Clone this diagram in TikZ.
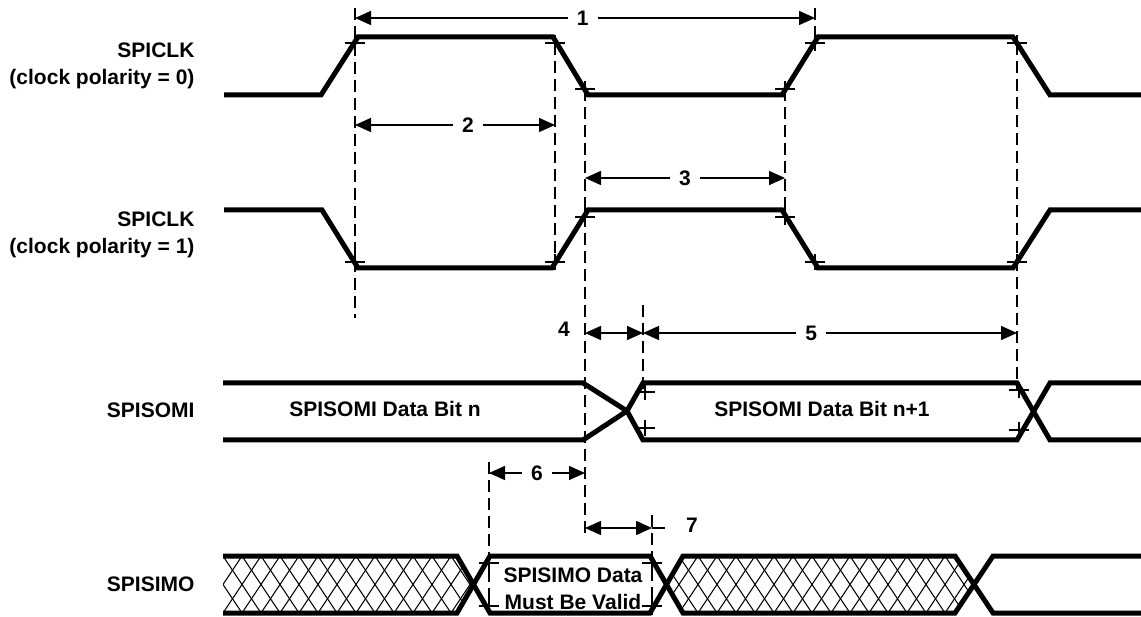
\documentclass[tikz,border=0pt]{standalone}
\usepackage{fontspec}
\setmainfont{Liberation Sans}
\usetikzlibrary{arrows.meta}

\tikzset{
  sig/.style={line width=5pt, line join=miter},
  guide/.style={line width=2pt, dash pattern=on 12pt off 6pt},
  dimline/.style={line width=1.5pt,
    {Triangle[length=16pt,width=14pt]}-{Triangle[length=16pt,width=14pt]}},
  crossmk/.style={line width=1.5pt},
  hatchln/.style={line width=1pt},
  lbl/.style={font=\fontsize{21}{27}\selectfont\bfseries},
  num/.style={lbl, fill=white, inner xsep=9pt, inner ysep=1pt},
}

\begin{document}
\begin{tikzpicture}[x=1pt, y=-1pt]
\useasboundingbox (0,0) rectangle (1141,617);

% Signal names
\node[lbl, anchor=east, align=right] (clk0) at (198,66) {SPICLK\\(clock polarity = 0)};
\node[lbl, anchor=east, align=right] (clk1) at (198,235) {SPICLK\\(clock polarity = 1)};
\node[lbl, anchor=east] (somi) at (198,410) {SPISOMI};
\node[lbl, anchor=east] (simo) at (198,584) {SPISIMO};

% Hatched (don't care) regions of SPISIMO
\begin{scope}
  \clip (223,556) -- (457,556) -- (473.5,584.5) -- (457,613) -- (223,613) -- cycle;
  \foreach \k in {-2,...,15}
    \draw[hatchln] (223+\k*19,556) -- ++(38,57) (223+\k*19,556) -- ++(-38,57);
\end{scope}
\begin{scope}
  \clip (667,584.5) -- (683,556) -- (955,556) -- (974,584.5) -- (955,613) -- (683,613) -- cycle;
  \foreach \k in {21,...,40}
    \draw[hatchln] (223+\k*19,556) -- ++(38,57) (223+\k*19,556) -- ++(-38,57);
\end{scope}

% Clock waveforms
\draw[sig] (224,95) -- (321,95) -- (358,37) -- (553,37) -- (588,95) -- (782,95)
    -- (818,37) -- (1013,37) -- (1050,95) -- (1141,95);
\draw[sig] (224,210) -- (322,210) -- (358,268) -- (552,268) -- (588,210) -- (782,210)
    -- (818,268) -- (1013,268) -- (1050,210) -- (1141,210);

% SPISOMI data
\draw[sig] (223,383) -- (583,383) -- (627,411) -- (643,440) -- (1017,440)
    -- (1050,383) -- (1141,383);
\draw[sig] (223,440) -- (583,440) -- (627,411) -- (643,383) -- (1017,383)
    -- (1050,440) -- (1141,440);
\node[lbl] (bitn) at (385,409) {SPISOMI Data Bit n};
\node[lbl] (bitn1) at (822,409) {SPISOMI Data Bit n+1};

% SPISIMO data
\draw[sig] (223,556) -- (457,556) -- (490,613) -- (650,613) -- (683,556)
    -- (955,556) -- (993,613) -- (1141,613);
\draw[sig] (223,613) -- (457,613) -- (490,556) -- (650,556) -- (683,613)
    -- (955,613) -- (993,556) -- (1141,556);
\node[lbl, align=center] (valid) at (573,589) {SPISIMO Data\\Must Be Valid};

% Reference lines
\foreach \x/\ya/\yb in {355/8/318, 555/43/268, 585/89/537, 785/89/217, 815/8/43,
    1017/43/390, 643/305/390, 489/462/615, 652/515/615}
  \draw[guide] (\x,\ya) -- (\x,\yb);

% 10% / 90% marks
\foreach \x/\y in {355/43, 555/43, 585/89, 785/89, 815/43, 1017/43,
    355/262, 555/262, 585/217, 785/217, 815/262, 1017/262,
    645/392, 645/428, 1019/390, 1019/430,
    489/563, 489/606, 652/563, 652/606}
  \draw[crossmk] (\x-10,\y) -- (\x+10,\y) (\x,\y-8) -- (\x,\y+8);

% Timing parameters
\coordinate (p1a) at (355,18);  \coordinate (p1b) at (815,18);
\coordinate (p2a) at (355,125); \coordinate (p2b) at (555,125);
\coordinate (p3a) at (585,178); \coordinate (p3b) at (785,178);
\coordinate (p4a) at (585,333); \coordinate (p4b) at (643,333);
\coordinate (p5b) at (1017,333);
\coordinate (p6a) at (489,473); \coordinate (p6b) at (585,473);
\coordinate (p7a) at (585,528); \coordinate (p7b) at (652,528);
\coordinate (p7c) at (665,528);

\draw[dimline] (p1a) -- node[num, pos=0.495] (n1) {1} (p1b);
\draw[dimline] (p2a) -- node[num, pos=0.565] (n2) {2} (p2b);
\draw[dimline] (p3a) -- node[num, pos=0.5] (n3) {3} (p3b);
\draw[dimline] (p4a) -- (p4b);
\node[lbl] (n4) at (564,329) {4};
\draw[dimline] (p4b) -- node[num, pos=0.45] (n5) {5} (p5b);
\draw[dimline] (p6a) -- node[num, pos=0.5] (n6) {6} (p6b);
\draw[dimline] (p7a) -- (p7b);
\draw[crossmk] (p7b) -- (p7c);
\node[lbl] (n7) at (692,525) {7};
\end{tikzpicture}
\end{document}
